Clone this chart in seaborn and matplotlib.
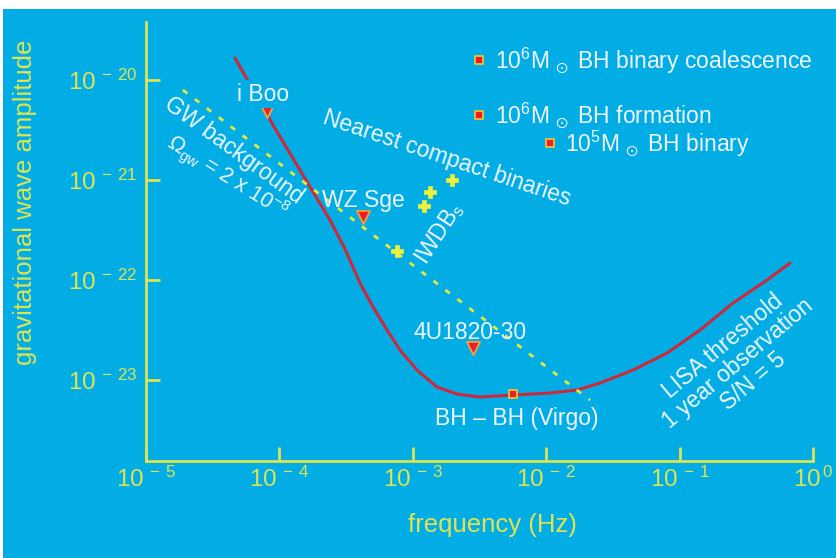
import numpy as np
import pandas as pd
import matplotlib
matplotlib.use("Agg")
import matplotlib.pyplot as plt
from matplotlib.patches import Rectangle
import seaborn as sns

# values (log10 of frequency in Hz / log10 of strain amplitude)
lisa_logf = [-4.333, -4.048, -3.846, -3.621, -3.508, -3.396, -3.298, -3.193, -3.096,
             -2.969, -2.819, -2.669, -2.496, -2.249, -1.972, -1.769, -1.597, -1.349,
             -1.094, -0.847, -0.600, -0.345, -0.172]
lisa_logh = [-19.78, -20.45, -20.90, -21.40, -21.69, -22.03, -22.27, -22.50, -22.70,
             -22.90, -23.07, -23.14, -23.17, -23.15, -23.13, -23.10, -23.03, -22.90,
             -22.73, -22.50, -22.23, -22.00, -21.83]

gw_logf = [-4.723, -1.672]
gw_logh = [-20.10, -23.20]

# named sources (triangles)
src_names = ["i Boo", "WZ Sge", "4U1820-30"]
src_logf = [-4.093, -3.373, -2.549]
src_logh = [-20.31, -21.37, -22.68]

# interacting white dwarf binaries (crosses)
iwdb_logf = [-2.706, -2.871, -2.916, -3.118]
iwdb_logh = [-21.00, -21.12, -21.26, -21.71]

# black hole sources (squares)
bh_labels = ["BH \u2013 BH (Virgo)",
             r"10$^6$M$_{\,\odot}$ BH binary coalescence",
             r"10$^6$M$_{\,\odot}$ BH formation",
             r"10$^5$M$_{\,\odot}$ BH binary"]
bh_logf = [-2.249, -2.504, -2.504, -1.971]
bh_logh = [-23.14, -19.80, -20.35, -20.63]

xtick_exp = [-5, -4, -3, -2, -1, 0]
ytick_exp = [-23, -22, -21, -20]

BLUE = "#02ade6"
YEL = "#dfe450"
RED = "#cc2a3c"
WHITE = "#eef6fb"

sns.set_style("ticks")
plt.rcParams["font.family"] = ["Liberation Sans", "DejaVu Sans"]
plt.rcParams["mathtext.fontset"] = "custom"
plt.rcParams["mathtext.rm"] = "Liberation Sans"
plt.rcParams["mathtext.default"] = "regular"

fig = plt.figure(figsize=(8.37, 5.58), dpi=100, facecolor="white")
fig.add_artist(Rectangle((3 / 837, 0), 1, 549 / 558, transform=fig.transFigure,
                         facecolor=BLUE, edgecolor="none", zorder=-10))
ax = fig.add_axes([0.1744, 0.1738, 0.797, 0.7867])
ax.patch.set_visible(False)
ax.set_xscale("log")
ax.set_yscale("log")

lisa = pd.DataFrame({"f": np.power(10.0, lisa_logf), "h": np.power(10.0, lisa_logh)})
sns.lineplot(data=lisa, x="f", y="h", ax=ax, color=RED, lw=2.2, sort=False,
             estimator=None, zorder=2)

gw = pd.DataFrame({"f": np.power(10.0, gw_logf), "h": np.power(10.0, gw_logh)})
sns.lineplot(data=gw, x="f", y="h", ax=ax, color="#e6ea3c", lw=2.0, sort=False,
             estimator=None, linestyle=(0, (2, 3.4)), zorder=3)

sns.scatterplot(x=np.power(10.0, src_logf), y=np.power(10.0, src_logh), ax=ax,
                marker="v", s=90, color="#e8202c", edgecolor="#f4a23a", linewidth=1.3,
                zorder=5)
sns.scatterplot(x=np.power(10.0, iwdb_logf), y=np.power(10.0, iwdb_logh), ax=ax,
                marker="P", s=70, color="#eef23a", edgecolor="#eef23a", linewidth=0.5,
                zorder=5)
sns.scatterplot(x=np.power(10.0, bh_logf), y=np.power(10.0, bh_logh), ax=ax,
                marker="s", s=30, color="#e8202c", edgecolor="#f2c030", linewidth=1.3,
                zorder=5)

# axes styling
ax.set_xlim(1e-5, 1e0)
ax.set_ylim(10 ** -23.81, 10 ** -19.42)
ax.set_xticks([10.0 ** e for e in xtick_exp])
ax.set_xticklabels([r"$10^{\,-\,%d}$" % -e if e < 0 else r"$10^{\,0}$" for e in xtick_exp])
ax.set_yticks([10.0 ** e for e in ytick_exp])
ax.set_yticklabels([r"$10^{\,-\,%d}$" % -e for e in ytick_exp])
ax.minorticks_off()
ax.tick_params(axis="both", which="major", direction="in", length=10, width=2,
               color=YEL, labelcolor=YEL, labelsize=17.5)
ax.tick_params(axis="x", pad=4)
ax.tick_params(axis="y", pad=6.5)
for side in ["top", "right"]:
    ax.spines[side].set_visible(False)
for side in ["left", "bottom"]:
    ax.spines[side].set_color(YEL)
    ax.spines[side].set_linewidth(2)

ax.set_xlabel("frequency (Hz)", color=YEL, fontsize=18.5)
ax.set_ylabel("gravitational wave amplitude", color=YEL, fontsize=18.5)
ax.xaxis.set_label_coords(0.519, -0.118)
ax.yaxis.set_label_coords(-0.163, 0.59)

# annotations
tkw = dict(color=WHITE, fontsize=16.5, ha="center", va="center", zorder=6)
ax.text(10 ** -4.123, 10 ** -20.14, src_names[0],
        bbox=dict(facecolor=BLUE, edgecolor="none", pad=1.5), **tkw)
ax.text(10 ** -3.373, 10 ** -21.20, src_names[1], **tkw)
ax.text(10 ** -2.571, 10 ** -22.52, src_names[2], **tkw)
ax.text(10 ** -2.219, 10 ** -23.38, bh_labels[0], **tkw)
ax.text(10 ** -4.340, 10 ** -20.70, "GW background", rotation=-36,
        rotation_mode="anchor", **tkw)
ax.text(10 ** -4.39, 10 ** -20.97, r"$\Omega_{gw}$ = 2 x 10$^{-8}$", rotation=-32,
        rotation_mode="anchor", **dict(tkw, fontsize=15.5))
ax.text(10 ** -2.744, 10 ** -20.78, "Nearest compact binaries", rotation=-18.5,
        rotation_mode="anchor", **tkw)
ax.text(10 ** -2.80, 10 ** -21.53, r"IWDB$_s$", rotation=57,
        rotation_mode="anchor", **tkw)
ax.text(10 ** -0.562, 10 ** -22.84, "LISA threshold\n1 year observation\nS/N = 5",
        rotation=40, rotation_mode="anchor", linespacing=1.0, **tkw)

lkw = dict(color=WHITE, fontsize=16.5, ha="left", va="center", zorder=6)
ax.text(10 ** -2.384, 10 ** -19.80, bh_labels[1], **lkw)
ax.text(10 ** -2.384, 10 ** -20.35, bh_labels[2], **lkw)
ax.text(10 ** -1.859, 10 ** -20.63, bh_labels[3], **lkw)

fig.savefig("out.png", dpi=100, facecolor=fig.get_facecolor())
